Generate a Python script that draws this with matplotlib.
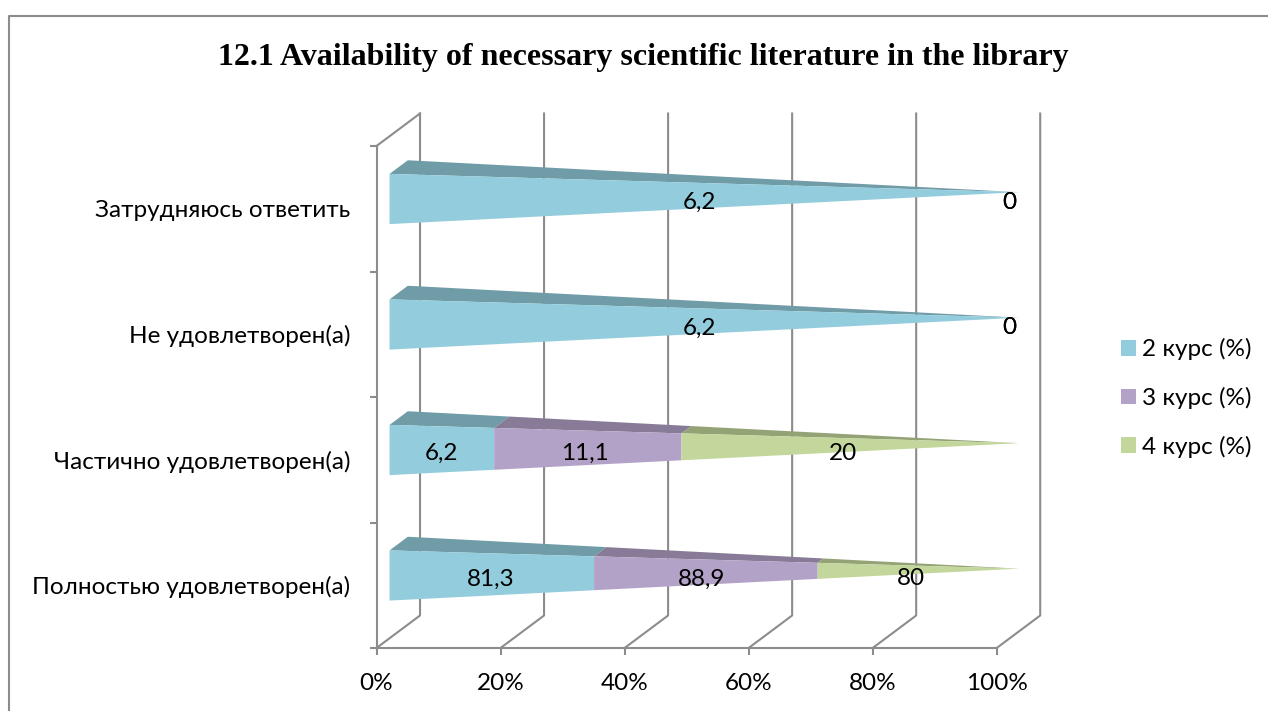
import matplotlib
matplotlib.use('Agg')
import numpy as np
from matplotlib import pyplot as plt
from matplotlib.lines import Line2D
from matplotlib.patches import Patch

categories = ['Полностью удовлетворен(а)', 'Частично удовлетворен(а)',
              'Не удовлетворен(а)', 'Затрудняюсь ответить']
course2 = [81.3, 6.2, 6.2, 6.2]
course3 = [88.9, 11.1, 0, 0]
course4 = [80, 20, 0, 0]
series_names = ['2 курс (%)', '3 курс (%)', '4 курс (%)']
value_labels = [['81,3', '6,2', '6,2', '6,2'],
                ['88,9', '11,1', '0', '0'],
                ['80', '20', '0', '0']]
x_ticks = [0, 20, 40, 60, 80, 100]
title = '12.1 Availability of necessary scientific literature in the library'

colors = ['#93CDDD', '#B3A2C7', '#C3D69B']
gray = '#8C8C8C'
W, H = 1268, 711

plt.rcParams['font.family'] = ['Lato', 'Noto Sans', 'DejaVu Sans']

# fake 3d: how far the back wall is shifted from the front, in data units
DX = 43.5 / 6.2
DY = 32.5 / 125.5
HALF = 0.2
D_MID, D_HALF = 0.51, 0.21
LW = 1.5
FS = 17.5


def pt(pct, y, depth):
    return pct + DX * depth, y + DY * depth


def shade(c, f=0.76):
    return tuple(v * f for v in matplotlib.colors.to_rgb(c))


def main():
    fig = plt.figure(figsize=(W / 100, H / 100), dpi=100)
    ax = fig.add_axes([376.5 / W, 1 - 648 / H, 620.2 / W, 502 / H])
    ax.set_xlim(0, 100)
    ax.set_ylim(0, 4)
    ax.patch.set_alpha(0)

    for s in ['top', 'right']:
        ax.spines[s].set_visible(False)
    for s in ['left', 'bottom']:
        ax.spines[s].set_color(gray)
        ax.spines[s].set_linewidth(LW)

    # walls
    for v in x_ticks:
        x0, y0 = pt(v, 0, 0)
        x1, y1 = pt(v, 0, 1)
        ax.plot([x0, x1, x1], [y0, y1, 4 + DY], color=gray, lw=LW, clip_on=False, zorder=1)
    ax.plot([0, DX], [4, 4 + DY], color=gray, lw=LW, clip_on=False, zorder=1)

    rows = np.array([course2, course3, course4], dtype=float)
    for i in range(len(categories)):
        total = rows[:, i].sum()
        yc = i + 0.5
        start = 0
        for j in range(3):
            t0 = start / total
            t1 = (start + rows[j, i]) / total
            start += rows[j, i]
            if rows[j, i] > 0:
                f0 = 1 - t0
                f1 = 1 - t1
                d0 = D_MID - D_HALF * f0
                d1 = D_MID - D_HALF * f1
                b0 = D_MID + D_HALF * f0
                b1 = D_MID + D_HALF * f1
                front = [pt(t0 * 100, yc + HALF * f0, d0), pt(t1 * 100, yc + HALF * f1, d1),
                         pt(t1 * 100, yc - HALF * f1, d1), pt(t0 * 100, yc - HALF * f0, d0)]
                top = [pt(t0 * 100, yc + HALF * f0, d0), pt(t0 * 100, yc + HALF * f0, b0),
                       pt(t1 * 100, yc + HALF * f1, b1), pt(t1 * 100, yc + HALF * f1, d1)]
                ax.fill(*zip(*top), color=shade(colors[j]), lw=0, clip_on=False, zorder=3)
                ax.fill(*zip(*front), color=colors[j], lw=0, clip_on=False, zorder=3)
            lx, ly = pt((t0 + t1) * 50, yc, 0.3)
            ax.annotate(value_labels[j][i], (lx, ly), xytext=(0, -2.5), textcoords='offset points',
                        fontsize=FS, ha='center', va='center', annotation_clip=False, zorder=5)

    ax.set_xticks(x_ticks)
    ax.set_xticklabels([str(v) + '%' for v in x_ticks])
    ax.set_yticks(range(5))
    ax.set_yticklabels([])
    ax.set_yticks([0.5, 1.5, 2.5, 3.5], minor=True)
    ax.set_yticklabels(categories, minor=True)
    ax.tick_params(axis='both', which='major', color=gray, width=LW, length=5, labelsize=FS, pad=13)
    ax.tick_params(axis='y', which='minor', length=0, labelsize=FS, pad=19)

    handles = [Patch(color=c, lw=0) for c in colors]
    fig.legend(handles, series_names, loc='center left', bbox_to_anchor=(1121 / W, 1 - 398 / H),
               frameon=False, fontsize=FS, handlelength=0.62, handleheight=0.62,
               handletextpad=0.25, labelspacing=1.1, borderpad=0, borderaxespad=0)

    fig.text(643 / W, 1 - 58 / H, title, ha='center', va='center', fontsize=23,
             family='Liberation Serif', weight='bold')

    # outer chart frame, cut off by the picture edge
    fig.add_artist(Line2D([9 / W, 9 / W, 1], [0, 1 - 16 / H, 1 - 16 / H], color=gray, lw=LW))

    fig.savefig('out.png', dpi=100)


if __name__ == '__main__':
    main()
